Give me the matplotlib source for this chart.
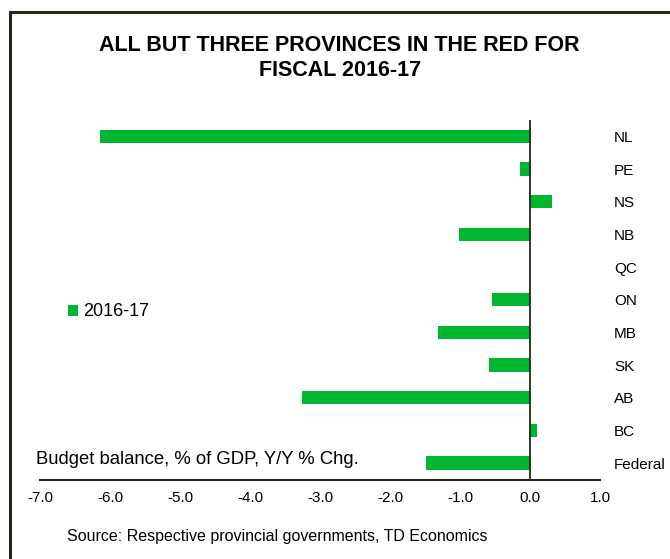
# provincial budget balances, fiscal 2016-17

import matplotlib
matplotlib.use("Agg")
import matplotlib.pyplot as plt
from matplotlib.patches import Rectangle

plt.rcParams['font.family'] = ['Liberation Sans', 'DejaVu Sans']

# data (top to bottom as shown)
regions = ['NL', 'PE', 'NS', 'NB', 'QC', 'ON', 'MB', 'SK', 'AB', 'BC', 'Federal']
balance = [-6.15, -0.14, 0.31, -1.02, 0.0, -0.54, -1.32, -0.58, -3.26, 0.10, -1.49]
xticks = [-7.0, -6.0, -5.0, -4.0, -3.0, -2.0, -1.0, 0.0, 1.0]

green = '#00B731'
dark = '#22281a'

fig = plt.figure(figsize=(6.7, 5.59), dpi=100)
ax = fig.add_axes([40 / 670, 1 - 480 / 559, 560 / 670, 360 / 559])

# bars, reversed so NL ends up on top
ypos = list(range(len(regions)))[::-1]
ax.barh(ypos, balance, height=0.4, color=green, label='2016-17', zorder=2)
ax.axvline(0, color=dark, lw=1.3, zorder=3)

ax.set_xlim(-7, 1)
ax.set_ylim(-0.52, 10.5)
ax.set_xticks(xticks)
ax.set_xticklabels(['%.1f' % t for t in xticks], fontsize=11)
ax.set_yticks(ypos)
ax.set_yticklabels(regions, fontsize=11)
ax.yaxis.tick_right()
ax.tick_params(axis='y', length=0, pad=10)
ax.tick_params(axis='x', length=0, pad=8)

for s in ['top', 'left', 'right']:
    ax.spines[s].set_visible(False)
ax.spines['bottom'].set_color(dark)
ax.spines['bottom'].set_linewidth(1.5)

# legend
fig.legend(loc='center left', bbox_to_anchor=(52 / 670, 1 - 312 / 559),
           frameon=False, fontsize=13, handlelength=0.55, handleheight=0.55,
           handletextpad=0.25)

# titles and notes
fig.text(0.507, 1 - 58 / 559, 'ALL BUT THREE PROVINCES IN THE RED FOR\nFISCAL 2016-17',
         ha='center', va='center', fontsize=15.5, fontweight='bold', linespacing=1.3)
fig.text(36 / 670, 1 - 459 / 559, 'Budget balance, % of GDP, Y/Y % Chg.',
         ha='left', va='center', fontsize=13.3)
fig.text(67 / 670, 1 - 537 / 559, 'Source: Respective provincial governments, TD Economics',
         ha='left', va='center', fontsize=11.5)

# outer frame (right and bottom run off the image)
fig.patches.append(Rectangle((10 / 670, -0.05), 1.0, 1 - 12 / 559 + 0.05,
                             transform=fig.transFigure, fill=False,
                             edgecolor=dark, lw=2.2))

fig.savefig('out.png', dpi=100)
